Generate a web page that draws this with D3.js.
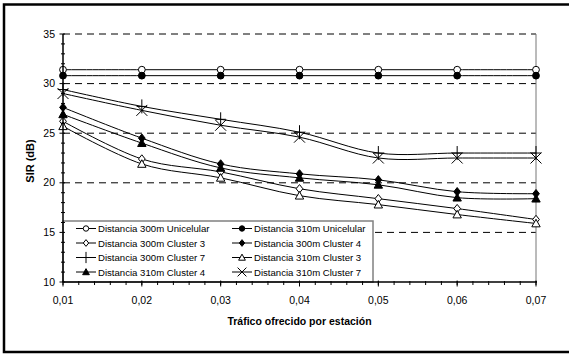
<!DOCTYPE html>
<html>
<head>
<meta charset="utf-8">
<script src="https://cdn.jsdelivr.net/npm/d3@7"></script>
<style>
  html, body { margin: 0; padding: 0; background: #fff; }
  svg { display: block; font-family: "Liberation Sans", Arial, sans-serif; }
</style>
</head>
<body>
<svg id="chart" width="569" height="356"></svg>
<script>
// Offered traffic per station (x categories)
const trafico = [0.01, 0.02, 0.03, 0.04, 0.05, 0.06, 0.07];
const xTickLabels = ["0,01", "0,02", "0,03", "0,04", "0,05", "0,06", "0,07"];
const yTicks = [10, 15, 20, 25, 30, 35];

// SIR (dB) per series
const d300Unicelular = [31.4, 31.4, 31.4, 31.4, 31.4, 31.4, 31.4];
const d310Unicelular = [30.8, 30.8, 30.8, 30.8, 30.8, 30.8, 30.8];
const d300Cluster3   = [26.2, 22.4, 21.1, 19.4, 18.4, 17.4, 16.3];
const d300Cluster4   = [27.6, 24.5, 21.9, 20.9, 20.3, 19.1, 18.9];
const d300Cluster7   = [29.4, 27.7, 26.4, 25.1, 23.0, 23.0, 23.0];
const d310Cluster3   = [25.7, 21.9, 20.5, 18.7, 17.8, 16.8, 15.9];
const d310Cluster4   = [26.9, 24.0, 21.5, 20.5, 19.8, 18.5, 18.4];
const d310Cluster7   = [29.0, 27.3, 25.8, 24.6, 22.5, 22.5, 22.5];

const series = [
  { name: "Distancia 300m Unicelular", values: d300Unicelular, marker: "circleOpen" },
  { name: "Distancia 310m Unicelular", values: d310Unicelular, marker: "circleFilled" },
  { name: "Distancia 300m Cluster 3",  values: d300Cluster3,   marker: "diamondOpen" },
  { name: "Distancia 300m Cluster 4",  values: d300Cluster4,   marker: "diamondFilled" },
  { name: "Distancia 300m Cluster 7",  values: d300Cluster7,   marker: "plus" },
  { name: "Distancia 310m Cluster 3",  values: d310Cluster3,   marker: "triangleOpen" },
  { name: "Distancia 310m Cluster 4",  values: d310Cluster4,   marker: "triangleFilled" },
  { name: "Distancia 310m Cluster 7",  values: d310Cluster7,   marker: "cross" }
];

const svg = d3.select("#chart");
const plot = { left: 63, right: 536, top: 34, bottom: 282 };

const x = d3.scaleLinear().domain([0.01, 0.07]).range([plot.left, plot.right]);
const y = d3.scaleLinear().domain([10, 35]).range([plot.bottom, plot.top]);

// Outer frame
svg.append("rect")
  .attr("x", 4).attr("y", 4.5).attr("width", 568).attr("height", 347.5)
  .attr("fill", "none").attr("stroke", "#000").attr("stroke-width", 2.5);

// Dashed horizontal gridlines
svg.append("g").selectAll("line")
  .data(yTicks.filter(v => v > 10))
  .join("line")
  .attr("x1", plot.left).attr("x2", plot.right)
  .attr("y1", d => y(d)).attr("y2", d => y(d))
  .attr("stroke", "#000").attr("stroke-width", 1)
  .attr("stroke-dasharray", "7,5");

// Right edge of the plot area
svg.append("line")
  .attr("x1", plot.right).attr("x2", plot.right)
  .attr("y1", plot.top).attr("y2", plot.bottom)
  .attr("stroke", "#777").attr("stroke-width", 1);

// Smoothed series lines
const line = d3.line()
  .x((d, i) => x(trafico[i]))
  .y(d => y(d))
  .curve(d3.curveCardinal.tension(0));

svg.append("g").selectAll("path")
  .data(series)
  .join("path")
  .attr("d", s => line(s.values))
  .attr("fill", "none")
  .attr("stroke", "#000")
  .attr("stroke-width", 1);

// Marker drawing
function drawMarker(g, type, cx, cy, scale) {
  const k = scale || 1;
  const sw = 1;
  switch (type) {
    case "circleOpen":
    case "circleFilled":
      g.append("circle").attr("cx", cx).attr("cy", cy).attr("r", 3.4 * k)
        .attr("fill", type === "circleOpen" ? "#fff" : "#000")
        .attr("stroke", "#000").attr("stroke-width", sw);
      break;
    case "diamondOpen":
    case "diamondFilled": {
      const r = 4.2 * k;
      g.append("path")
        .attr("d", `M${cx},${cy - r}L${cx + r * 0.8},${cy}L${cx},${cy + r}L${cx - r * 0.8},${cy}Z`)
        .attr("fill", type === "diamondOpen" ? "#fff" : "#000")
        .attr("stroke", "#000").attr("stroke-width", sw);
      break;
    }
    case "triangleOpen":
    case "triangleFilled": {
      const r = 4.2 * k;
      g.append("path")
        .attr("d", `M${cx},${cy - r}L${cx + r},${cy + r * 0.8}L${cx - r},${cy + r * 0.8}Z`)
        .attr("fill", type === "triangleOpen" ? "#fff" : "#000")
        .attr("stroke", "#000").attr("stroke-width", sw);
      break;
    }
    case "plus": {
      const r = 7 * k;
      g.append("path")
        .attr("d", `M${cx},${cy - r}L${cx},${cy + r}M${cx - r * 0.75},${cy}L${cx + r * 0.75},${cy}`)
        .attr("fill", "none").attr("stroke", "#000").attr("stroke-width", sw);
      break;
    }
    case "cross": {
      const r = 5.5 * k;
      g.append("path")
        .attr("d", `M${cx - r},${cy - r}L${cx + r},${cy + r}M${cx - r},${cy + r}L${cx + r},${cy - r}`)
        .attr("fill", "none").attr("stroke", "#000").attr("stroke-width", sw);
      break;
    }
  }
}

const markers = svg.append("g");
series.forEach(s => {
  s.values.forEach((v, i) => drawMarker(markers, s.marker, x(trafico[i]), y(v), 1));
});

// Legend (two columns, four rows)
const legend = svg.append("g");
const legBox = { x: plot.left, y: 221, w: 310, h: plot.bottom - 221 };
legend.append("rect")
  .attr("x", legBox.x).attr("y", legBox.y)
  .attr("width", legBox.w).attr("height", legBox.h)
  .attr("fill", "#fff").attr("stroke", "#808080").attr("stroke-width", 1.5);

const colX = [76, 232];
const rowY0 = 228.5, rowDy = 14.5;
series.forEach((s, i) => {
  const col = i % 2, row = Math.floor(i / 2);
  const lx = colX[col], ly = rowY0 + row * rowDy;
  legend.append("line")
    .attr("x1", lx).attr("x2", lx + 20).attr("y1", ly).attr("y2", ly)
    .attr("stroke", "#000").attr("stroke-width", 1);
  drawMarker(legend, s.marker, lx + 10, ly, 0.8);
  legend.append("text")
    .attr("x", lx + 22).attr("y", ly + 3.5)
    .attr("font-size", "9.6px").attr("fill", "#000")
    .text(s.name);
});

// Y axis
const yMinor = d3.range(10, 35.001, 1);
const yAxis = svg.append("g");
yAxis.append("line")
  .attr("x1", plot.left).attr("x2", plot.left)
  .attr("y1", plot.top).attr("y2", plot.bottom)
  .attr("stroke", "#000").attr("stroke-width", 1.5);
yAxis.selectAll("line.minor")
  .data(yMinor.filter(v => v % 5 !== 0))
  .join("line").attr("class", "minor")
  .attr("x1", plot.left - 2).attr("x2", plot.left + 2)
  .attr("y1", d => y(d)).attr("y2", d => y(d))
  .attr("stroke", "#000").attr("stroke-width", 1);
yAxis.selectAll("line.major")
  .data(yTicks)
  .join("line").attr("class", "major")
  .attr("x1", plot.left - 3.5).attr("x2", plot.left + 2)
  .attr("y1", d => y(d)).attr("y2", d => y(d))
  .attr("stroke", "#000").attr("stroke-width", 1);
yAxis.selectAll("text")
  .data(yTicks)
  .join("text")
  .attr("x", plot.left - 8).attr("y", d => y(d) + 3.6)
  .attr("text-anchor", "end").attr("font-size", "10.5px")
  .text(d => d);

// X axis
const xMinor = d3.range(0, 31).map(i => 0.01 + i * 0.002);
const xAxis = svg.append("g");
xAxis.selectAll("line.minor")
  .data(xMinor)
  .join("line").attr("class", "minor")
  .attr("x1", d => x(d)).attr("x2", d => x(d))
  .attr("y1", plot.bottom - 1).attr("y2", plot.bottom + 3)
  .attr("stroke", "#000").attr("stroke-width", 1);
xAxis.selectAll("line.major")
  .data(trafico)
  .join("line").attr("class", "major")
  .attr("x1", d => x(d)).attr("x2", d => x(d))
  .attr("y1", plot.bottom - 1.5).attr("y2", plot.bottom + 4.5)
  .attr("stroke", "#000").attr("stroke-width", 1);
xAxis.append("line")
  .attr("x1", plot.left).attr("x2", plot.right + 1)
  .attr("y1", plot.bottom).attr("y2", plot.bottom)
  .attr("stroke", "#000").attr("stroke-width", 1.5);
xAxis.selectAll("text")
  .data(trafico)
  .join("text")
  .attr("x", d => x(d)).attr("y", plot.bottom + 22)
  .attr("text-anchor", "middle").attr("font-size", "10.5px")
  .text((d, i) => xTickLabels[i]);

// Axis titles
svg.append("text")
  .attr("x", (plot.left + plot.right) / 2).attr("y", 325)
  .attr("text-anchor", "middle").attr("font-size", "10.5px").attr("font-weight", "bold")
  .text("Tráfico ofrecido por estación");

svg.append("text")
  .attr("transform", `translate(34,${(plot.top + plot.bottom) / 2 + 3}) rotate(-90)`)
  .attr("text-anchor", "middle").attr("font-size", "11px").attr("font-weight", "bold")
  .text("SIR (dB)");
</script>
</body>
</html>
